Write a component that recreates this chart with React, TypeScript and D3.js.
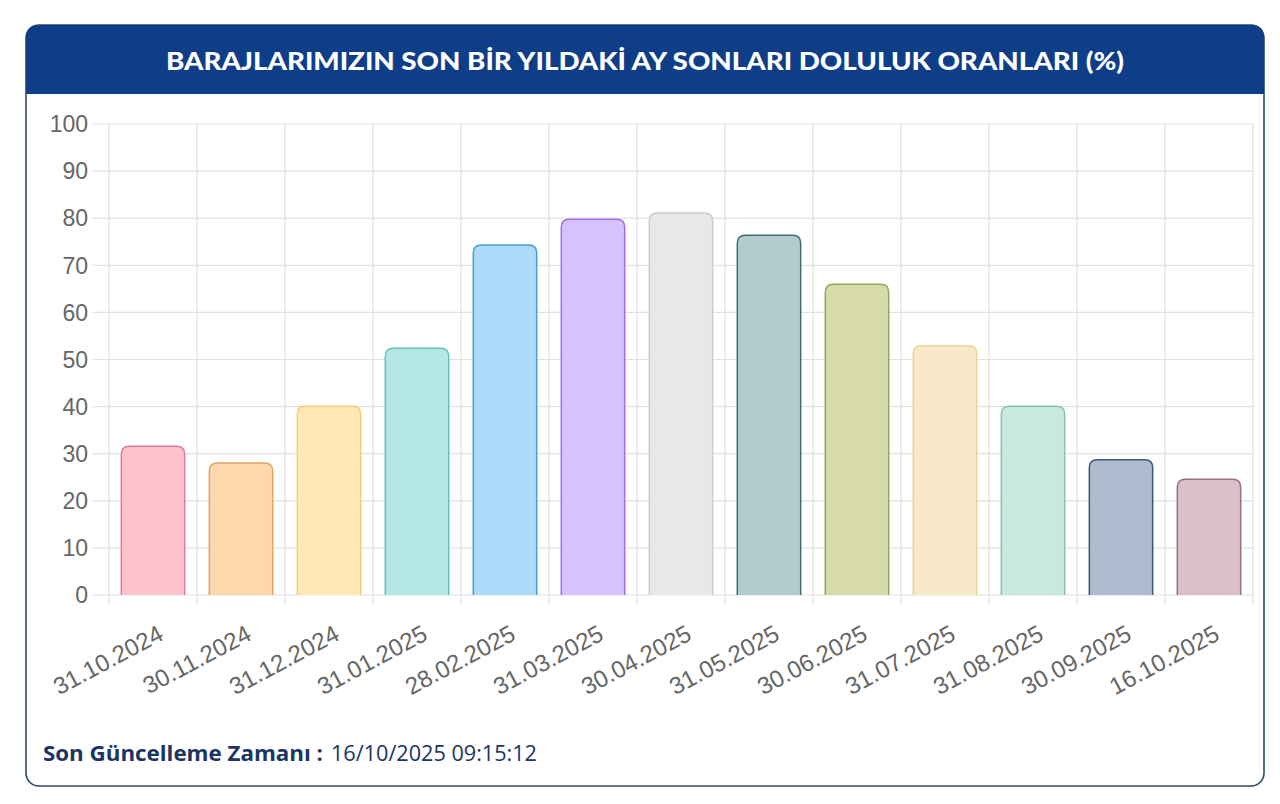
import * as d3 from "d3";
import React, { useEffect, useRef } from "react";

const dates = [
  "31.10.2024",
  "30.11.2024",
  "31.12.2024",
  "31.01.2025",
  "28.02.2025",
  "31.03.2025",
  "30.04.2025",
  "31.05.2025",
  "30.06.2025",
  "31.07.2025",
  "31.08.2025",
  "30.09.2025",
  "16.10.2025",
];
const fillRates = [31.6, 28.0, 40.1, 52.4, 74.3, 79.8, 81.1, 76.4, 66.0, 52.9, 40.1, 28.7, 24.6];
const fillColors = [
  "#ffc2cf", "#ffd7ad", "#ffe8b3", "#b5e8e4", "#acdaf8", "#d6c3fd", "#e6e8e9",
  "#b2cbcf", "#d7dbab", "#f8e9c8", "#c9e8de", "#acbbcd", "#d9bfc6",
];
const borderColors = [
  "#e07c95", "#e3a365", "#f1cf72", "#66c2b8", "#4a9dce", "#9a6ee6", "#c9cdd1",
  "#3f6f71", "#96a35a", "#ead49a", "#86c4a8", "#3c5878", "#9a6f7c",
];
const yTicks = [0, 10, 20, 30, 40, 50, 60, 70, 80, 90, 100];

const title = "BARAJLARIMIZIN SON BİR YILDAKİ AY SONLARI DOLULUK ORANLARI (%)";
const updateLabel = "Son Güncelleme Zamanı :";
const updateTime = "16/10/2025 09:15:12";

const App = () => {
  const ref = useRef(null);

  useEffect(() => {
    document.body.style.margin = "0";
    const W = 1280;
    const H = 804;
    const root = d3.select(ref.current);
    root.selectAll("*").remove();
    const svg = root
      .append("svg")
      .attr("width", W)
      .attr("height", H)
      .style("display", "block")
      .style("background", "#ffffff");

    // kart
    const card = { x: 26, y: 25, w: 1238, h: 761, r: 13 };
    const headH = 69;
    svg
      .append("rect")
      .attr("x", card.x)
      .attr("y", card.y)
      .attr("width", card.w)
      .attr("height", card.h)
      .attr("rx", card.r)
      .attr("fill", "#ffffff")
      .attr("stroke", "#2f4a66")
      .attr("stroke-width", 1.6);

    const r = card.r;
    const hx = card.x;
    const hy = card.y;
    svg
      .append("path")
      .attr(
        "d",
        `M${hx},${hy + headH} V${hy + r} Q${hx},${hy} ${hx + r},${hy} H${hx + card.w - r} Q${hx + card.w},${hy} ${hx + card.w},${hy + r} V${hy + headH} Z`
      )
      .attr("fill", "#0f3e88");

    svg
      .append("text")
      .attr("x", 645)
      .attr("y", 70)
      .attr("text-anchor", "middle")
      .attr("fill", "#ffffff")
      .attr("font-family", "Lato, 'Open Sans', sans-serif")
      .attr("font-weight", "900")
      .attr("font-size", 24)
      .attr("textLength", 958)
      .attr("lengthAdjust", "spacingAndGlyphs")
      .text(title);

    // grafik alanı
    const left = 109;
    const right = 1253;
    const top = 124;
    const bottom = 595;

    const x = d3.scaleBand().domain(dates).range([left, right]).paddingInner(0).paddingOuter(0);
    const y = d3.scaleLinear().domain([0, 100]).range([bottom, top]);
    const gridColor = "#e1e1e1";

    // yatay grid
    svg
      .append("g")
      .selectAll("line")
      .data(yTicks)
      .join("line")
      .attr("x1", left - 16)
      .attr("x2", right)
      .attr("y1", (d) => y(d))
      .attr("y2", (d) => y(d))
      .attr("stroke", gridColor)
      .attr("stroke-width", 1.2);

    // dikey grid
    const vEdges = dates.map((d) => x(d)).concat([right]);
    svg
      .append("g")
      .selectAll("line")
      .data(vEdges)
      .join("line")
      .attr("x1", (d) => d)
      .attr("x2", (d) => d)
      .attr("y1", top)
      .attr("y2", bottom + 10)
      .attr("stroke", gridColor)
      .attr("stroke-width", 1.2);

    // y etiketleri
    svg
      .append("g")
      .selectAll("text")
      .data(yTicks)
      .join("text")
      .attr("x", left - 21)
      .attr("y", (d) => y(d))
      .attr("dy", "0.36em")
      .attr("text-anchor", "end")
      .attr("fill", "#666666")
      .attr("font-family", "'Liberation Sans', Arial, sans-serif")
      .attr("font-size", 23)
      .text((d) => d);

    // barlar
    const barW = x.bandwidth() * 0.72;
    const rad = 8;
    const barPath = (d, i) => {
      const cx = x(dates[i]) + x.bandwidth() / 2;
      const x0 = cx - barW / 2;
      const x1 = cx + barW / 2;
      const yt = y(d);
      const y0 = y(0);
      return `M${x0},${y0} V${yt + rad} Q${x0},${yt} ${x0 + rad},${yt} H${x1 - rad} Q${x1},${yt} ${x1},${yt + rad} V${y0}`;
    };
    svg
      .append("g")
      .selectAll("path")
      .data(fillRates)
      .join("path")
      .attr("d", barPath)
      .attr("fill", (d, i) => fillColors[i])
      .attr("stroke", (d, i) => borderColors[i])
      .attr("stroke-width", 1.5);

    // x etiketleri
    svg
      .append("g")
      .selectAll("text")
      .data(dates)
      .join("text")
      .attr(
        "transform",
        (d) => `translate(${x(d) + x.bandwidth() / 2 + 12}, 639) rotate(-28)`
      )
      .attr("text-anchor", "end")
      .attr("fill", "#666666")
      .attr("font-family", "'Liberation Sans', Arial, sans-serif")
      .attr("font-size", 24)
      .text((d) => d);

    // alt bilgi
    svg
      .append("text")
      .attr("x", 43)
      .attr("y", 761)
      .attr("fill", "#1a3463")
      .attr("font-family", "'Open Sans', Lato, sans-serif")
      .attr("font-weight", "bold")
      .attr("font-size", 21)
      .attr("textLength", 280)
      .attr("lengthAdjust", "spacingAndGlyphs")
      .text(updateLabel);
    svg
      .append("text")
      .attr("x", 331)
      .attr("y", 761)
      .attr("fill", "#1a3463")
      .attr("font-family", "'Open Sans', Lato, sans-serif")
      .attr("font-size", 21)
      .attr("textLength", 206)
      .attr("lengthAdjust", "spacingAndGlyphs")
      .text(updateTime);
  }, []);

  return <div ref={ref} />;
};

export default App;
